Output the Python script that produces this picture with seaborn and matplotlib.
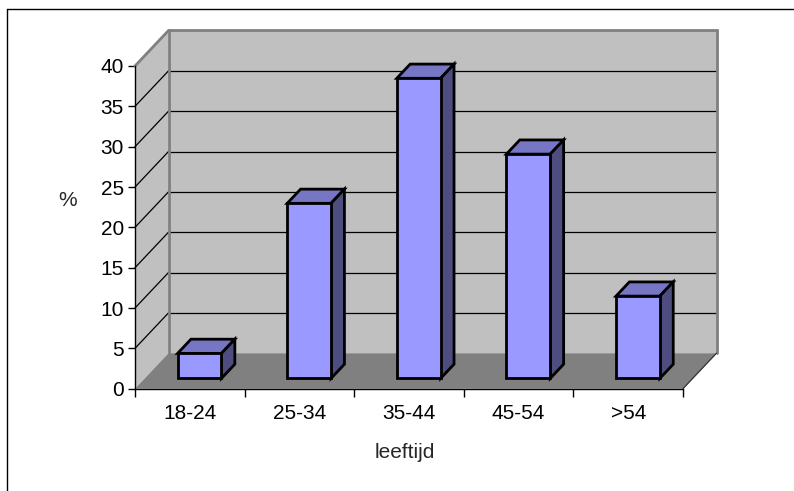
import numpy as np
import pandas as pd
import seaborn as sns
import matplotlib
matplotlib.use("Agg")
import matplotlib.pyplot as plt
from matplotlib.patches import Polygon
from matplotlib.lines import Line2D

# Age groups and share of respondents (%)
categories = ["18-24", "25-34", "35-44", "45-54", ">54"]
percentages = [3.1, 21.7, 37.2, 27.8, 10.2]
y_ticks = [0, 5, 10, 15, 20, 25, 30, 35, 40]

sns.set_theme(style="white")
plt.rcParams["font.family"] = ["Liberation Sans", "DejaVu Sans"]

W, H = 794, 491
fig = plt.figure(figsize=(W / 100, H / 100), dpi=100)
fig.patch.set_facecolor("white")

# front plane of the plot box in pixels
px_left, px_right, px_bottom, px_top = 135, 683, 388.7, 66
ax = fig.add_axes([px_left / W, 1 - px_bottom / H,
                   (px_right - px_left) / W, (px_bottom - px_top) / H])
ax.set_facecolor("none")

df = pd.DataFrame({"leeftijd": categories, "pct": percentages})
sns.barplot(data=df, x="leeftijd", y="pct", width=0.4, color="#9999FF",
            saturation=1, edgecolor="black", linewidth=2, ax=ax, zorder=5)
bars = list(ax.patches)

ax.set_xlim(-0.5, 4.5)
ax.set_ylim(0, 40)

# pixel -> data scale, used for the oblique depth offset
XU = (px_right - px_left) / 5
YU = (px_bottom - px_top) / 40


def depth(f):
    return 33.5 * f / XU, 35.5 * f / YU


Dx, Dy = depth(1.0)
wall = "#C0C0C0"
floor = "#808080"
edge_gray = "#808080"

# walls and floor
ax.add_patch(Polygon([(-0.5 + Dx, Dy), (4.5 + Dx, Dy), (4.5 + Dx, 40 + Dy),
                      (-0.5 + Dx, 40 + Dy)], closed=True, fc=wall, ec="none",
                     clip_on=False, zorder=0))
ax.add_patch(Polygon([(-0.5, 0), (-0.5, 40), (-0.5 + Dx, 40 + Dy),
                      (-0.5 + Dx, Dy)], closed=True, fc=wall, ec="none",
                     clip_on=False, zorder=0))
ax.add_patch(Polygon([(-0.5, 0), (4.5, 0), (4.5 + Dx, Dy), (-0.5 + Dx, Dy)],
                     closed=True, fc=floor, ec="none", clip_on=False, zorder=0.5))

# gridlines on back and side walls
for v in y_ticks[1:-1]:
    ax.add_line(Line2D([-0.5 + Dx, 4.5 + Dx], [v + Dy, v + Dy], color="black",
                       lw=0.9, clip_on=False, zorder=1))
    ax.add_line(Line2D([-0.5, -0.5 + Dx], [v, v + Dy], color="black",
                       lw=0.9, clip_on=False, zorder=1))

# wall outlines
for xs, ys in [([-0.5, -0.5 + Dx], [40, 40 + Dy]),
               ([-0.5 + Dx, 4.5 + Dx], [40 + Dy, 40 + Dy]),
               ([-0.5 + Dx, -0.5 + Dx], [Dy, 40 + Dy]),
               ([4.5 + Dx, 4.5 + Dx], [Dy, 40 + Dy])]:
    ax.add_line(Line2D(xs, ys, color=edge_gray, lw=2, clip_on=False, zorder=2))
ax.add_line(Line2D([4.5, 4.5 + Dx], [0, Dy], color="#303030", lw=0.9,
                   clip_on=False, zorder=2))

# give each bar its depth: shift front face, add top and side faces
fx, fy = depth(0.29)
bx, by = depth(0.69)
ddx, ddy = bx - fx, by - fy
for p in bars:
    h = p.get_height()
    p.set_x(p.get_x() + fx)
    p.set_y(fy)
    xa = p.get_x()
    xb = xa + p.get_width()
    top = fy + h
    ax.add_patch(Polygon([(xa, top), (xb, top), (xb + ddx, top + ddy),
                          (xa + ddx, top + ddy)], closed=True, fc="#7676C4",
                         ec="black", lw=2, joinstyle="miter", clip_on=False, zorder=4))
    ax.add_patch(Polygon([(xb, fy), (xb, top), (xb + ddx, top + ddy),
                          (xb + ddx, fy + ddy)], closed=True, fc="#4D4D80",
                         ec="black", lw=2, joinstyle="miter", clip_on=False, zorder=4))
    p.set_joinstyle("miter")

# axes
for s in ["top", "right"]:
    ax.spines[s].set_visible(False)
for s in ["left", "bottom"]:
    ax.spines[s].set_color("black")
    ax.spines[s].set_linewidth(1)
    ax.spines[s].set_zorder(3)

ax.set_yticks(y_ticks)
ax.tick_params(axis="y", left=True, direction="out", length=5, width=1,
               color="black", labelsize=15, pad=3, labelcolor="black")
ax.set_xticks(range(len(categories)))
ax.set_xticklabels(categories)
ax.tick_params(axis="x", which="major", bottom=True, length=0, labelsize=15,
               pad=11, labelcolor="black")
ax.set_xticks(np.arange(-0.5, 5, 1), minor=True)
ax.tick_params(axis="x", which="minor", bottom=True, direction="out",
               length=6, width=1, color="black")
ax.set_xlabel("")
ax.set_ylabel("")

fig.text(68 / W, 1 - 200 / H, "%", fontsize=15, ha="center", va="center")
fig.text(405 / W, 1 - 452 / H, "leeftijd", fontsize=15, ha="center", va="center")

# chart frame
fig.add_artist(Line2D([7 / W, 7 / W], [0, 1 - 9 / H], color="black", lw=1,
                      transform=fig.transFigure))
fig.add_artist(Line2D([7 / W, 1], [1 - 9 / H, 1 - 9 / H], color="black", lw=1,
                      transform=fig.transFigure))

fig.savefig("out.png", dpi=100)
